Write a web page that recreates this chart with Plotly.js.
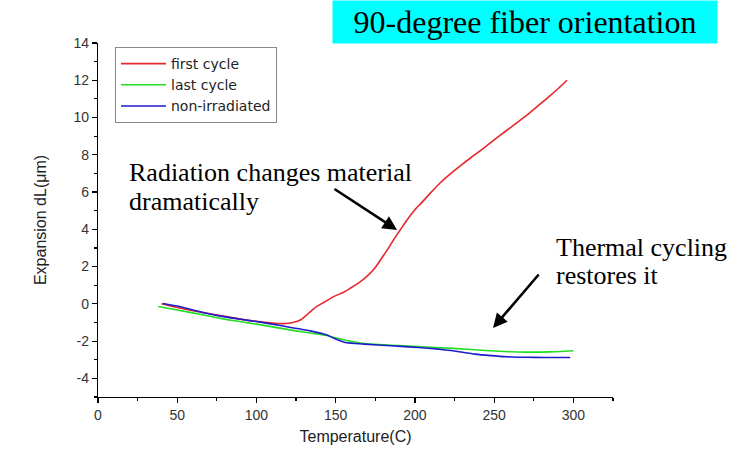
<!DOCTYPE html>
<html>
<head>
<meta charset="utf-8">
<script src="https://cdn.plot.ly/plotly-3.0.1.min.js"></script>
<style>html,body{margin:0;padding:0;background:#fff;}#chart{width:747px;height:453px;}</style>
</head>
<body>
<div id="chart"></div>
<script>
// Data
const firstT = [40, 50, 60, 70, 80, 90, 100, 110, 117, 123, 128, 133, 138, 143, 149, 155, 160, 165, 170, 175, 179, 183, 187, 191, 195, 200, 205, 210, 216, 222, 230, 237, 244, 250, 257, 264, 271, 278, 285, 291, 296];
const firstV = [0.0, -0.2, -0.37, -0.52, -0.67, -0.82, -0.94, -1.03, -1.06, -1.0, -0.85, -0.5, -0.14, 0.1, 0.4, 0.62, 0.88, 1.15, 1.5, 1.95, 2.45, 2.95, 3.5, 4.0, 4.5, 5.05, 5.5, 5.97, 6.5, 6.95, 7.5, 7.95, 8.4, 8.8, 9.25, 9.7, 10.15, 10.65, 11.15, 11.6, 12.0];
const lastT = [38, 50, 66, 80, 100, 122, 145, 151, 157, 168, 185, 202, 224, 247, 260, 270, 285, 300];
const lastV = [-0.14, -0.33, -0.59, -0.83, -1.09, -1.41, -1.71, -1.85, -1.97, -2.13, -2.22, -2.29, -2.39, -2.52, -2.57, -2.59, -2.58, -2.52];
const nonT = [41, 50, 66, 80, 100, 116, 134, 144, 150, 156, 168, 185, 202, 215, 224, 238, 248, 258, 270, 281, 298];
const nonV = [0.02, -0.12, -0.46, -0.7, -0.95, -1.18, -1.45, -1.66, -1.89, -2.07, -2.16, -2.25, -2.34, -2.43, -2.52, -2.70, -2.78, -2.84, -2.87, -2.88, -2.88];
const seriesNames = ["first cycle", "last cycle", "non-irradiated"];
const xTickVals = [0, 50, 100, 150, 200, 250, 300];
const xTickText = ["0", "50", "100", "150", "200", "250", "300"];
const yTickVals = [-4, -2, 0, 2, 4, 6, 8, 10, 12, 14];
const yTickText = ["-4", "-2", "0", "2", "4", "6", "8", "10", "12", "14"];
const titleText = "90-degree fiber orientation";
const xTitle = "Temperature(C)";
const yTitle = "Expansion dL(μm)";

// plot-area pixel geometry
const L = 98, R = 613, TOP = 43, BOT = 397;
const px = x => (x - L) / (R - L);
const py = y => (BOT - y) / (BOT - TOP);

const traces = [
  {x: firstT, y: firstV, name: seriesNames[0], mode: 'lines', line: {color: '#e8262b', width: 1.6, shape: 'spline', smoothing: 0.7}},
  {x: lastT, y: lastV, name: seriesNames[1], mode: 'lines', line: {color: '#22dd22', width: 1.6, shape: 'spline', smoothing: 0.5}},
  {x: nonT, y: nonV, name: seriesNames[2], mode: 'lines', line: {color: '#1c1ccc', width: 1.6, shape: 'spline', smoothing: 0.5}}
];

const serif = 'Liberation Serif, Times New Roman, serif';
const sans = 'Liberation Sans, Arial, sans-serif';

const layout = {
  width: 747, height: 453,
  margin: {l: L, r: 747 - R, t: TOP, b: 453 - BOT, pad: 0},
  paper_bgcolor: '#fff', plot_bgcolor: '#fff',
  showlegend: true,
  legend: {
    x: px(115), y: py(47), xanchor: 'left', yanchor: 'top',
    bordercolor: '#888', borderwidth: 1, bgcolor: '#fff',
    font: {family: 'DejaVu Sans, sans-serif', size: 14, color: '#222'},
    tracegroupgap: 0, itemwidth: 45
  },
  xaxis: {
    range: [0, 325], tickmode: 'array', tickvals: xTickVals, ticktext: xTickText,
    showline: true, linecolor: '#000', linewidth: 1.2,
    ticks: 'outside', ticklen: 5, tickcolor: '#000', tickwidth: 1.2,
    minor: {dtick: 25, tick0: 0, ticks: 'outside', ticklen: 3, tickcolor: '#000'},
    showgrid: false, zeroline: false,
    tickfont: {family: sans, size: 14, color: '#333'},
    title: {text: xTitle, font: {family: sans, size: 16, color: '#222'}, standoff: 8},
    automargin: false, fixedrange: true
  },
  yaxis: {
    range: [-5, 14], tickmode: 'array', tickvals: yTickVals, ticktext: yTickText,
    showline: true, linecolor: '#000', linewidth: 1.2,
    ticks: 'outside', ticklen: 5, tickcolor: '#000', tickwidth: 1.2,
    minor: {dtick: 1, tick0: 0, ticks: 'outside', ticklen: 3, tickcolor: '#000'},
    showgrid: false, zeroline: false,
    tickfont: {family: sans, size: 14, color: '#333'},
    title: {text: yTitle, font: {family: sans, size: 16, color: '#222'}, standoff: 22},
    automargin: false, fixedrange: true
  },
  annotations: [
    {xref: 'paper', yref: 'paper', x: px(332), y: py(0), xanchor: 'left', yanchor: 'top',
     width: 384, height: 42, borderpad: 0, bgcolor: '#00ffff', showarrow: false,
     text: titleText, font: {family: serif, size: 32, color: '#000'}, align: 'center', valign: 'middle'},
    {xref: 'paper', yref: 'paper', x: px(127), y: py(173), xanchor: 'left', yanchor: 'middle', showarrow: false,
     text: 'Radiation changes material', font: {family: serif, size: 26, color: '#000'}},
    {xref: 'paper', yref: 'paper', x: px(127), y: py(201.5), xanchor: 'left', yanchor: 'middle', showarrow: false,
     text: 'dramatically', font: {family: serif, size: 26, color: '#000'}},
    {xref: 'paper', yref: 'paper', x: px(554), y: py(248), xanchor: 'left', yanchor: 'middle', showarrow: false,
     text: 'Thermal cycling', font: {family: serif, size: 26, color: '#000'}},
    {xref: 'paper', yref: 'paper', x: px(554), y: py(275), xanchor: 'left', yanchor: 'middle', showarrow: false,
     text: 'restores it', font: {family: serif, size: 26, color: '#000'}},
    {xref: 'paper', yref: 'paper', x: px(397), y: py(230), text: '', showarrow: true,
     ax: 333 - 397, ay: 188 - 230, arrowhead: 2, arrowsize: 1.1, arrowwidth: 2.6, arrowcolor: '#000', standoff: 0},
    {xref: 'paper', yref: 'paper', x: px(493), y: py(328), text: '', showarrow: true,
     ax: 540 - 493, ay: 273 - 328, arrowhead: 2, arrowsize: 1.1, arrowwidth: 2.6, arrowcolor: '#000', standoff: 0}
  ]
};

Plotly.newPlot('chart', traces, layout, {staticPlot: true, displayModeBar: false});
</script>
</body>
</html>
